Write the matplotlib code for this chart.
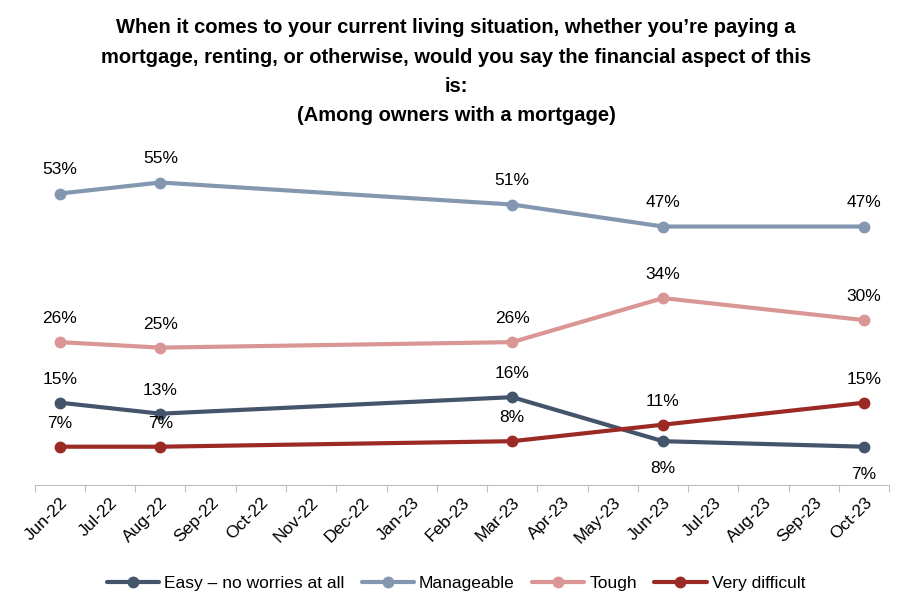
import matplotlib.pyplot as plt

months = ['Jun-22', 'Jul-22', 'Aug-22', 'Sep-22', 'Oct-22', 'Nov-22', 'Dec-22',
          'Jan-23', 'Feb-23', 'Mar-23', 'Apr-23', 'May-23', 'Jun-23', 'Jul-23',
          'Aug-23', 'Sep-23', 'Oct-23']
survey_months = ['Jun-22', 'Aug-22', 'Mar-23', 'Jun-23', 'Oct-23']

easy = [15, 13, 16, 8, 7]
manageable = [53, 55, 51, 47, 47]
tough = [26, 25, 26, 34, 30]
very_difficult = [7, 7, 8, 11, 15]

series = [
    ('Easy – no worries at all', easy, '#44546A', ['above', 'above', 'above', 'below', 'below']),
    ('Manageable', manageable, '#8497B0', ['above'] * 5),
    ('Tough', tough, '#D99694', ['above'] * 5),
    ('Very difficult', very_difficult, '#9B2A25', ['above'] * 5),
]

plt.rcParams['font.family'] = ['Liberation Sans', 'DejaVu Sans']

fig = plt.figure(figsize=(9.12, 6.15), dpi=100)
ax = fig.add_axes([0.038, 0.211, 0.937, 0.537])

xpos = [months.index(m) for m in survey_months]
for name, vals, color, places in series:
    ax.plot(xpos, vals, color=color, lw=3, marker='o', markersize=7.5,
            label=name, solid_capstyle='round')
    for x, v, p in zip(xpos, vals, places):
        dy = 17 if p == 'above' else -20
        ax.annotate(f'{v}%', (x, v), xytext=(0, dy), textcoords='offset points',
                    ha='center', va='center', fontsize=12.5, color='#000000')

ax.set_xlim(-0.5, len(months) - 0.5)
ax.set_ylim(0, 60)
# boundary ticks between categories, labels centred on each month
ax.set_xticks([i - 0.5 for i in range(len(months) + 1)])
ax.set_xticklabels([])
ax.set_xticks(range(len(months)), minor=True)
ax.set_xticklabels(months, minor=True, rotation=45, ha='right',
                   rotation_mode='anchor', fontsize=12.5)
ax.tick_params(axis='x', which='major', length=5, color='#BFBFBF')
ax.tick_params(axis='x', which='minor', length=0, pad=7)
ax.set_yticks([])
for s in ['top', 'right', 'left']:
    ax.spines[s].set_visible(False)
ax.spines['bottom'].set_color('#BFBFBF')

fig.text(0.5, 0.97,
         'When it comes to your current living situation, whether you’re paying a\n'
         'mortgage, renting, or otherwise, would you say the financial aspect of this\n'
         'is:\n(Among owners with a mortgage)',
         ha='center', va='top', fontsize=14.5, fontweight='bold', linespacing=1.68)

fig.legend(loc='center', bbox_to_anchor=(0.5, 0.052), ncol=4, frameon=False,
           fontsize=12.5, handlelength=3.0, columnspacing=1.0, handletextpad=0.3)

fig.savefig('out.png', dpi=100)
